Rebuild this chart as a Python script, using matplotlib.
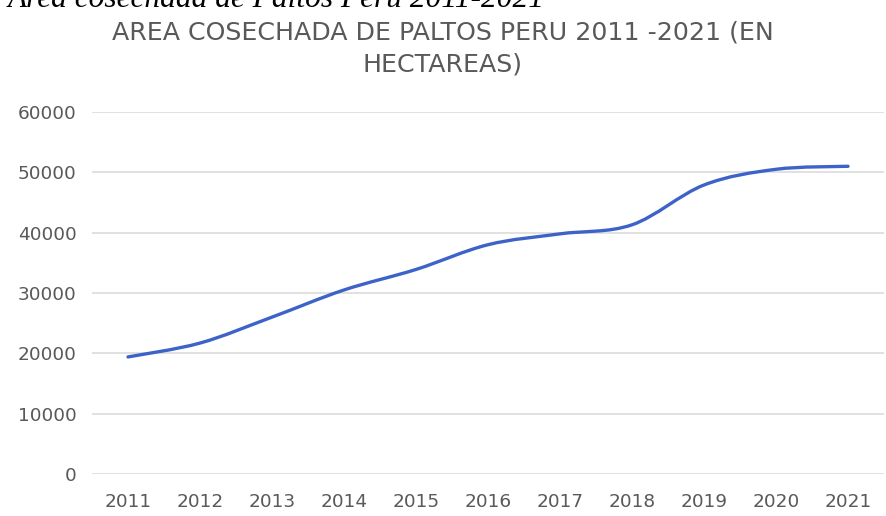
import numpy as np
import matplotlib.pyplot as plt
from matplotlib.path import Path
from matplotlib.patches import PathPatch

years = ['2011', '2012', '2013', '2014', '2015', '2016',
         '2017', '2018', '2019', '2020', '2021']
area_ha = [19400, 21700, 26000, 30500, 33900, 38000,
           39800, 41300, 47900, 50500, 51000]
yticks = [0, 10000, 20000, 30000, 40000, 50000, 60000]

caption = 'Área cosechada de Paltos Perú 2011-2021'
title = 'AREA COSECHADA DE PALTOS PERU 2011 -2021 (EN\nHECTAREAS)'


def smooth_path(x, y, k=1. / 6):
    """Cubic Bezier path through the points (spreadsheet-style smoothing)."""
    pts = np.column_stack([x, y]).astype(float)
    verts = [pts[0]]
    codes = [Path.MOVETO]
    n = len(pts)
    for i in range(n - 1):
        p0 = pts[max(i - 1, 0)]
        p1 = pts[i]
        p2 = pts[i + 1]
        p3 = pts[min(i + 2, n - 1)]
        c1 = p1 + (p2 - p0) * k
        c2 = p2 - (p3 - p1) * k
        verts += [c1, c2, p2]
        codes += [Path.CURVE4] * 3
    return Path(verts, codes)


fig = plt.figure(figsize=(8.86, 5.16), dpi=100)
ax = fig.add_axes([0.1038, 0.0814, 0.894, 0.7016])

xpos = np.arange(len(years))
path = smooth_path(xpos, area_ha)
ax.add_patch(PathPatch(path, facecolor='none', edgecolor='#3d63c9',
                       lw=2.4, capstyle='round', joinstyle='round', zorder=3))

ax.set_xlim(-0.5, len(years) - 0.5)
ax.set_ylim(0, 60000)
ax.set_yticks(yticks)
ax.set_yticklabels([str(v) for v in yticks])
ax.set_xticks(xpos)
ax.set_xticklabels(years)
ax.grid(axis='y', color='#dcdcdc', lw=1.2)
ax.set_axisbelow(True)
for s in ax.spines.values():
    s.set_visible(False)
ax.tick_params(length=0, colors='#595959', labelsize=13.3)
ax.tick_params(axis='y', pad=11)
ax.tick_params(axis='x', pad=14)
for lab in ax.get_xticklabels() + ax.get_yticklabels():
    lab.set_family('DejaVu Sans')

fig.text(0.5, 0.906, title, ha='center', va='center', color='#595959',
         fontsize=18.2, family='DejaVu Sans', linespacing=1.4)
fig.text(0.009, 0.9864, caption, ha='left', va='baseline', style='italic',
         fontsize=22.6, family='Liberation Serif', color='black')

fig.savefig('out.png', dpi=100)
